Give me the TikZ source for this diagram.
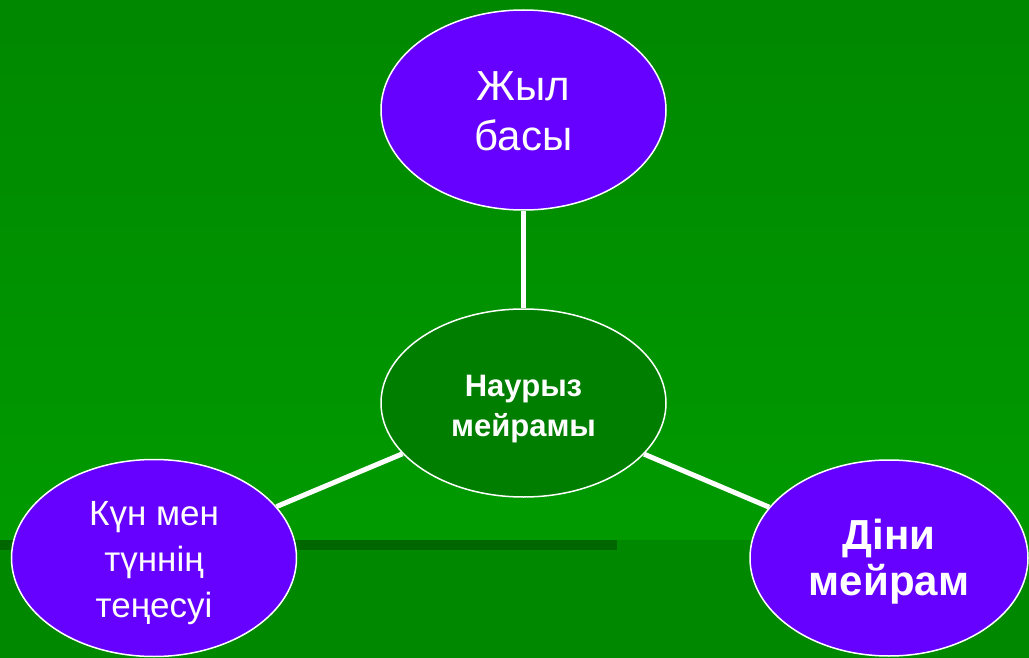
\documentclass[tikz,border=0pt]{standalone}
\usepackage{fontspec}
\setmainfont{Liberation Sans}
\usetikzlibrary{shapes.geometric,positioning}
\definecolor{bgtop}{HTML}{008800}
\definecolor{bgmid}{HTML}{009A00}
\definecolor{bglow}{HTML}{008900}
\definecolor{barcol}{HTML}{006600}
\definecolor{violetfill}{HTML}{6600FF}
\definecolor{hubfill}{HTML}{007E00}

\begin{document}
\begin{tikzpicture}[x=1pt,y=-1pt,
  Oval/.style={ellipse,draw=white,line width=1.5pt,fill=violetfill,inner sep=0pt},
  Hub/.style={Oval,fill=hubfill},
  Txt/.style={text=white,align=center,inner sep=0pt},
  Link/.style={draw=white,line width=5pt}]
  \useasboundingbox (0,0) rectangle (1029,658);
  % background
  \shade[top color=bgtop,bottom color=bgmid] (0,0) rectangle (1029,540);
  \fill[bglow] (0,540) rectangle (1029,658);
  \fill[barcol] (0,540) rectangle (617,550);
  % ovals
  \node[Hub,minimum width=285pt,minimum height=188pt] (hub) at (523.5,403) {};
  \node[Oval,minimum width=285pt,minimum height=200pt] (jyl) at (523.5,110) {};
  \node[Oval,minimum width=285pt,minimum height=197pt] (kun) at (154,558) {};
  \node[Oval,minimum width=278pt,minimum height=196pt] (dini) at (889,558) {};
  % texts
  \node[Txt,font=\bfseries\fontsize{31}{40}\selectfont] (hubtxt)
    at ([yshift=-6pt]hub.center) {Наурыз\\мейрамы};
  \node[Txt,font=\fontsize{42}{50}\selectfont] (jyltxt)
    at ([yshift=-1pt]jyl.center) {Жыл\\басы};
  \node[Txt,font=\fontsize{35}{46}\selectfont] (kuntxt)
    at ([yshift=-5pt]kun.center) {Күн мен\\түннің\\теңесуі};
  \node[Txt,font=\bfseries\fontsize{42}{46}\selectfont] (dinitxt)
    at ([yshift=-4pt]dini.center) {Діни\\мейрам};
  % links
  \draw[Link] (hub) -- (jyl);
  \draw[Link] (hub) -- (kun);
  \draw[Link] (hub) -- (dini);
\end{tikzpicture}
\end{document}
